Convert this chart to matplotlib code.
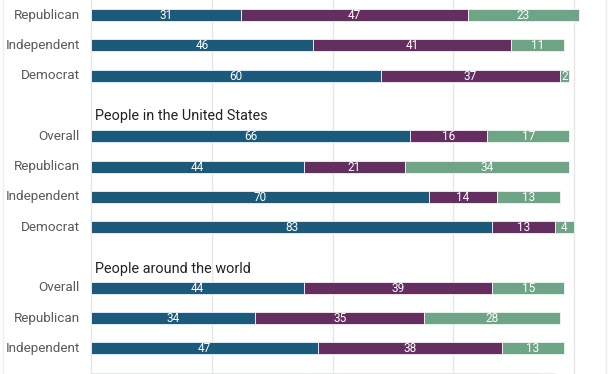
import matplotlib
matplotlib.use("Agg")
import matplotlib.pyplot as plt
from matplotlib.lines import Line2D

plt.rcParams['font.family'] = ['Roboto', 'DejaVu Sans']

# Data (rows in display order, top to bottom)
row_labels = ["Republican", "Independent", "Democrat",
              "Overall", "Republican", "Independent", "Democrat",
              "Overall", "Republican", "Independent", "Democrat"]
row_pos = [0, 1, 2, 4, 5, 6, 7, 9, 10, 11, 12]
series1 = [31, 46, 60, 66, 44, 70, 83, 44, 34, 47, 51]
series2 = [47, 41, 37, 16, 21, 14, 13, 39, 35, 38, 42]
series3 = [23, 11, 2, 17, 34, 13, 4, 15, 28, 13, 3]
group_titles = ["People in the United States", "People around the world"]
group_title_pos = [3.33, 8.37]
gridlines = [0, 25, 50, 75, 100]

colors = ["#1b5a7b", "#652e61", "#6ea587"]

W, H = 612, 374
fig = plt.figure(figsize=(W / 100, H / 100), dpi=100)
ax = fig.add_axes([0, 0, 1, 1])

px_per_unit = 120.7 / 25
x0_px = 91.3
ax.set_xlim(-x0_px / px_per_unit, (W - x0_px) / px_per_unit)
row_px = 30.3
y0_px = 15
ax.set_ylim((H - y0_px) / row_px, -y0_px / row_px)
ax.axis("off")

for g in gridlines:
    ax.axvline(g, color="#e6e6e6", lw=1, zorder=0)

bar_h = 12 / row_px
lefts = [0] * len(row_pos)
for vals, c in zip([series1, series2, series3], colors):
    ax.barh(row_pos, vals, left=lefts, height=bar_h, color=c,
            edgecolor="#f4f4f4", linewidth=0.6, zorder=2)
    for y, v, l in zip(row_pos, vals, lefts):
        if y >= 12:
            continue  # last row is cut off at the bottom edge
        ax.text(l + v / 2, y + 0.02, str(v), ha="center", va="center",
                color="white", fontsize=8.5, zorder=3)
    lefts = [l + v for l, v in zip(lefts, vals)]

for y, lab in zip(row_pos, row_labels):
    if y >= 12:
        continue
    ax.text((80 - x0_px) / px_per_unit, y, lab, ha="right", va="center",
            color="#595959", fontsize=9.7)

for y, t in zip(group_title_pos, group_titles):
    ax.text((95 - x0_px) / px_per_unit, y, t, ha="left", va="center",
            color="#222222", fontsize=10.4)

# faint panel frame lines
for xf in [3.5 / W, 606 / W]:
    fig.add_artist(Line2D([xf, xf], [0, 1], color="#eeeeee", lw=1,
                          transform=fig.transFigure))

fig.savefig("out.png", dpi=100, facecolor="white")
